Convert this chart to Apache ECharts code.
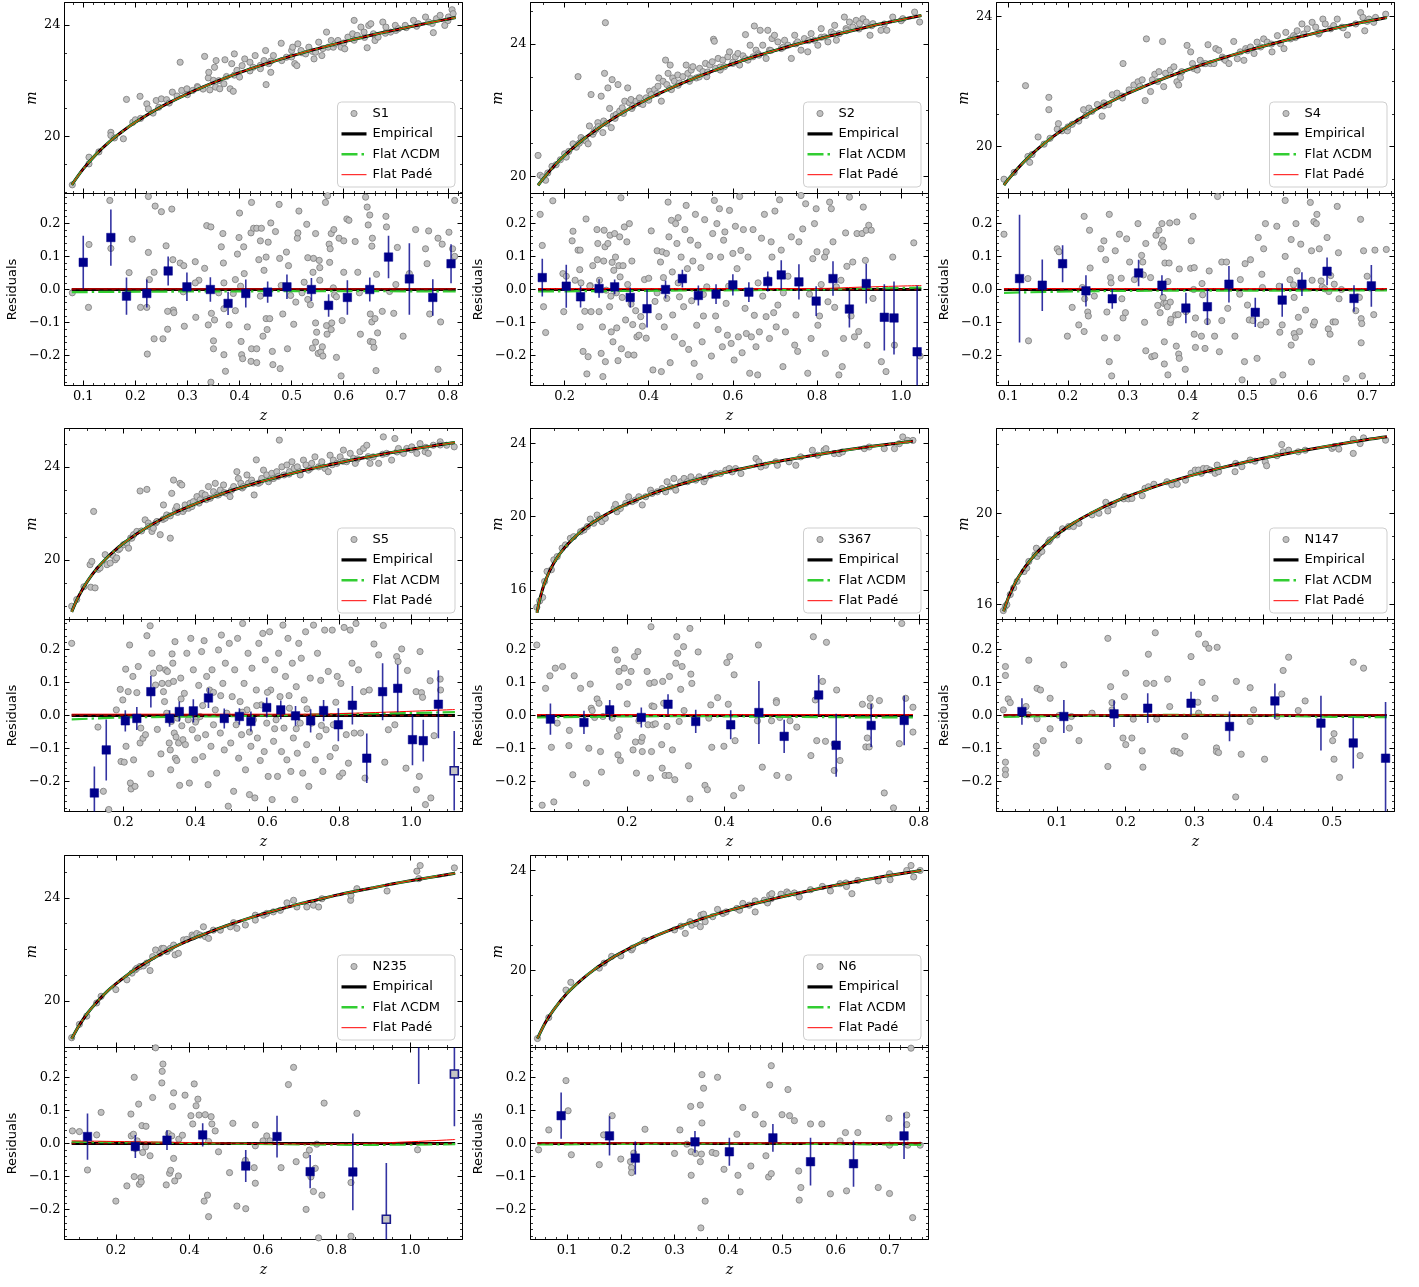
<!DOCTYPE html>
<html><head><meta charset="utf-8">
<script src="https://cdn.jsdelivr.net/npm/echarts@6/dist/echarts.min.js"></script>
<style>html,body{margin:0;padding:0;background:#fff}#c{width:1419px;height:1287px}</style>
</head><body><div id="c"></div>
<script>
// ---------------- DATA ----------------
const S1_curve=[[0.078,18.27],[0.1,18.84],[0.125,19.37],[0.15,19.81],[0.175,20.18],[0.2,20.51],[0.25,21.07],[0.3,21.53],[0.35,21.93],[0.4,22.29],[0.45,22.60],[0.5,22.89],[0.55,23.15],[0.6,23.39],[0.65,23.62],[0.7,23.82],[0.75,24.02],[0.815,24.26]];
const S1_top=[[0.079,18.27],[0.111,19.26],[0.111,19.02],[0.13,19.45],[0.153,20.15],[0.153,20.04],[0.16,19.95],[0.177,19.92],[0.183,21.33],[0.195,20.51],[0.2,20.6],[0.209,21.44],[0.21,20.65],[0.222,21.17],[0.225,20.99],[0.234,20.84],[0.24,21.29],[0.245,21.05],[0.25,21.35],[0.26,21.32],[0.265,21.2],[0.271,21.59],[0.28,21.45],[0.286,22.66],[0.289,21.65],[0.299,21.71],[0.3,21.5],[0.31,21.65],[0.319,21.79],[0.32,21.75],[0.33,21.7],[0.333,22.87],[0.34,22.1],[0.341,22.3],[0.343,21.67],[0.35,22.01],[0.352,22.48],[0.354,21.77],[0.355,22.72],[0.36,22.0],[0.362,21.71],[0.37,21.89],[0.372,22.75],[0.375,22.15],[0.382,21.71],[0.385,22.61],[0.388,21.62],[0.39,22.2],[0.39,22.96],[0.395,22.37],[0.4,22.13],[0.405,22.54],[0.41,22.78],[0.42,22.35],[0.42,22.66],[0.426,22.48],[0.43,22.9],[0.44,22.55],[0.44,22.43],[0.447,22.72],[0.45,23.08],[0.451,21.86],[0.46,22.7],[0.456,22.61],[0.46,22.3],[0.465,22.9],[0.48,23.34],[0.481,22.72],[0.49,22.84],[0.5,23.08],[0.5,22.85],[0.506,22.61],[0.51,22.54],[0.502,23.2],[0.512,23.32],[0.52,23.0],[0.518,23.08],[0.527,22.96],[0.533,23.2],[0.54,23.05],[0.543,22.78],[0.546,23.02],[0.552,23.38],[0.56,23.15],[0.558,22.9],[0.567,23.74],[0.57,23.2],[0.576,23.44],[0.58,23.2],[0.583,23.32],[0.589,23.44],[0.595,23.2],[0.6,23.35],[0.602,23.14],[0.608,23.56],[0.617,23.68],[0.62,23.45],[0.62,24.16],[0.626,23.62],[0.633,23.92],[0.64,23.55],[0.639,23.74],[0.645,23.18],[0.648,23.98],[0.652,24.04],[0.66,23.6],[0.657,23.68],[0.66,23.44],[0.666,23.56],[0.675,24.1],[0.68,23.7],[0.681,23.92],[0.69,23.74],[0.7,23.8],[0.699,23.98],[0.705,23.86],[0.72,23.9],[0.718,23.98],[0.734,24.16],[0.74,23.95],[0.743,24.04],[0.757,24.28],[0.77,24.05],[0.763,24.1],[0.772,23.72],[0.778,24.22],[0.785,24.34],[0.8,24.15],[0.794,23.98],[0.801,24.28],[0.808,24.54],[0.81,24.4]];
const S1_res=[[0.079,-0.010],[0.110,-0.054],[0.111,0.136],[0.151,0.269],[0.153,0.124],[0.188,0.051],[0.194,0.152],[0.210,-0.054],[0.222,-0.054],[0.223,-0.195],[0.225,0.112],[0.227,0.030],[0.225,0.281],[0.236,0.052],[0.236,-0.149],[0.238,0.252],[0.250,0.235],[0.253,-0.149],[0.259,0.132],[0.262,-0.066],[0.262,-0.120],[0.270,0.243],[0.272,0.090],[0.273,-0.062],[0.274,-0.070],[0.286,0.080],[0.293,0.072],[0.294,-0.111],[0.292,-0.007],[0.315,0.084],[0.316,-0.084],[0.322,0.028],[0.333,0.064],[0.337,0.193],[0.345,0.189],[0.340,-0.107],[0.346,-0.072],[0.350,-0.155],[0.350,-0.179],[0.345,-0.280],[0.352,-0.092],[0.365,0.129],[0.368,0.169],[0.369,0.080],[0.370,0.020],[0.370,-0.058],[0.370,-0.197],[0.373,-0.247],[0.380,-0.107],[0.388,-0.012],[0.392,0.030],[0.392,-0.064],[0.396,0.107],[0.399,0.157],[0.400,0.231],[0.403,-0.157],[0.404,-0.197],[0.406,-0.209],[0.408,0.129],[0.409,0.048],[0.415,-0.113],[0.422,0.171],[0.423,0.263],[0.423,-0.179],[0.422,-0.217],[0.427,0.185],[0.433,0.185],[0.433,-0.179],[0.433,-0.221],[0.437,0.090],[0.440,0.147],[0.442,0.185],[0.445,-0.141],[0.447,0.058],[0.451,0.098],[0.451,-0.088],[0.453,-0.121],[0.455,0.143],[0.458,-0.088],[0.460,0.201],[0.463,-0.187],[0.464,-0.227],[0.469,0.175],[0.476,0.257],[0.477,0.094],[0.478,-0.239],[0.483,-0.074],[0.490,0.113],[0.492,-0.179],[0.494,0.072],[0.498,-0.018],[0.504,-0.105],[0.508,-0.038],[0.511,0.155],[0.512,0.171],[0.514,0.237],[0.524,0.022],[0.529,0.197],[0.531,0.096],[0.531,-0.030],[0.536,-0.046],[0.540,-0.177],[0.541,0.052],[0.542,0.094],[0.546,0.169],[0.546,-0.159],[0.546,-0.101],[0.548,-0.129],[0.551,-0.193],[0.553,0.088],[0.554,0.066],[0.554,0.028],[0.556,-0.189],[0.559,-0.173],[0.560,-0.201],[0.565,0.263],[0.567,-0.109],[0.568,-0.135],[0.569,0.283],[0.572,0.137],[0.573,0.082],[0.574,0.123],[0.576,0.169],[0.576,-0.121],[0.577,-0.101],[0.581,0.181],[0.582,-0.016],[0.586,-0.022],[0.586,-0.205],[0.591,0.155],[0.595,-0.261],[0.597,-0.094],[0.600,0.147],[0.600,0.052],[0.606,0.213],[0.610,0.209],[0.622,0.145],[0.627,0.052],[0.632,-0.135],[0.642,0.279],[0.645,0.249],[0.647,0.195],[0.650,0.225],[0.651,-0.074],[0.651,-0.157],[0.654,0.131],[0.654,-0.098],[0.655,0.155],[0.656,-0.159],[0.658,-0.175],[0.660,-0.088],[0.662,-0.245],[0.663,0.046],[0.665,-0.131],[0.674,-0.066],[0.681,0.221],[0.682,0.189],[0.688,-0.006],[0.696,-0.072],[0.703,0.127],[0.714,-0.141],[0.726,0.048],[0.738,0.181],[0.757,0.123],[0.760,0.078],[0.763,0.177],[0.765,-0.074],[0.781,0.155],[0.789,0.137],[0.786,-0.098],[0.781,-0.241],[0.802,0.173],[0.809,0.123],[0.813,0.100],[0.813,0.269],[0.315,0.020],[0.360,-0.010],[0.402,0.010],[0.440,-0.020],[0.480,0.012],[0.520,-0.010],[0.580,0.005],[0.630,-0.010],[0.700,0.015]];
const S1_bins=[[0.100,0.082,0.080],[0.153,0.157,0.085],[0.183,-0.020,0.056],[0.222,-0.012,0.042],[0.263,0.056,0.044],[0.299,0.008,0.043],[0.344,0.000,0.037],[0.378,-0.042,0.035],[0.412,-0.012,0.042],[0.454,-0.008,0.032],[0.491,0.008,0.037],[0.538,0.000,0.035],[0.571,-0.048,0.034],[0.607,-0.024,0.052],[0.650,0.000,0.036],[0.686,0.098,0.064],[0.726,0.032,0.108],[0.771,-0.024,0.055],[0.806,0.078,0.059]];
const S1_few=[];
const S1_lcdm=[[0.078,-0.008],[0.3,-0.006],[0.6,-0.005],[0.815,-0.006]];
const S1_pade=[[0.078,0.002],[0.815,0.002]];

const S2_curve=[[0.137,19.73],[0.15,19.94],[0.175,20.31],[0.2,20.63],[0.25,21.17],[0.3,21.62],[0.35,22.01],[0.4,22.35],[0.45,22.65],[0.5,22.92],[0.55,23.17],[0.6,23.40],[0.65,23.61],[0.7,23.80],[0.75,23.98],[0.8,24.14],[0.85,24.30],[0.9,24.45],[0.95,24.60],[1.0,24.73],[1.048,24.86]];
const S2_top=[[0.137,20.63],[0.142,20.03],[0.148,19.98],[0.155,19.88],[0.16,20.1],[0.17,20.3],[0.18,20.35],[0.19,20.5],[0.2,20.68],[0.204,20.58],[0.21,20.75],[0.22,20.98],[0.228,20.88],[0.232,23.01],[0.235,21.0],[0.239,21.17],[0.245,21.1],[0.251,21.07],[0.256,20.98],[0.259,21.52],[0.263,22.47],[0.267,21.27],[0.27,21.35],[0.275,21.42],[0.279,21.62],[0.28,21.5],[0.287,22.42],[0.291,21.32],[0.293,21.67],[0.295,23.11],[0.297,24.64],[0.3,21.6],[0.303,22.67],[0.307,22.05],[0.311,21.47],[0.313,22.92],[0.316,21.82],[0.32,21.75],[0.323,21.87],[0.327,22.77],[0.331,21.97],[0.337,22.07],[0.34,21.9],[0.343,22.27],[0.35,22.67],[0.354,22.22],[0.358,22.32],[0.36,22.05],[0.362,22.12],[0.37,22.27],[0.378,22.37],[0.38,22.2],[0.386,22.17],[0.394,22.37],[0.4,22.3],[0.402,22.57],[0.406,22.47],[0.414,22.62],[0.42,22.5],[0.422,22.72],[0.424,22.97],[0.43,22.27],[0.434,22.87],[0.44,23.51],[0.443,22.77],[0.446,23.11],[0.45,22.65],[0.451,23.36],[0.454,22.62],[0.457,22.97],[0.461,22.87],[0.469,23.06],[0.47,22.75],[0.473,22.82],[0.481,23.01],[0.489,23.36],[0.493,23.11],[0.497,22.87],[0.5,22.95],[0.501,23.21],[0.505,23.31],[0.513,22.97],[0.52,23.0],[0.521,23.26],[0.529,23.16],[0.535,23.41],[0.538,23.01],[0.54,23.15],[0.545,23.36],[0.551,23.46],[0.554,24.14],[0.556,24.08],[0.559,23.26],[0.565,23.56],[0.57,23.21],[0.57,23.3],[0.576,23.51],[0.58,23.31],[0.588,23.61],[0.592,23.76],[0.6,23.41],[0.6,23.45],[0.606,23.61],[0.612,23.71],[0.616,23.36],[0.624,23.64],[0.63,24.28],[0.63,23.55],[0.636,23.51],[0.641,23.96],[0.648,23.61],[0.651,24.54],[0.655,23.81],[0.66,23.7],[0.662,23.66],[0.665,24.41],[0.671,23.96],[0.679,23.56],[0.683,24.41],[0.687,23.81],[0.69,23.8],[0.693,24.16],[0.699,24.26],[0.707,24.06],[0.715,23.86],[0.72,23.9],[0.723,24.11],[0.731,23.96],[0.739,23.56],[0.747,24.26],[0.75,24.0],[0.754,24.06],[0.762,23.81],[0.77,24.16],[0.778,23.76],[0.78,24.1],[0.786,24.31],[0.794,24.11],[0.802,23.96],[0.81,24.46],[0.81,24.2],[0.818,24.21],[0.826,24.06],[0.834,24.36],[0.84,24.3],[0.842,24.56],[0.846,24.11],[0.853,24.31],[0.865,24.81],[0.869,24.46],[0.87,24.4],[0.877,24.66],[0.885,24.51],[0.893,24.71],[0.9,24.45],[0.901,24.61],[0.909,24.76],[0.917,24.66],[0.926,24.26],[0.93,24.55],[0.933,24.61],[0.952,24.41],[0.96,24.6],[0.966,24.41],[0.98,24.81],[1.0,24.7],[1.004,24.76],[1.032,24.96],[1.044,24.66]];
const S2_res=[[0.142,0.227],[0.147,0.133],[0.150,-0.052],[0.155,-0.130],[0.172,0.268],[0.196,0.048],[0.198,-0.067],[0.204,0.040],[0.218,0.147],[0.220,0.176],[0.225,0.028],[0.232,0.119],[0.236,0.060],[0.237,0.119],[0.237,-0.113],[0.239,0.020],[0.244,-0.187],[0.248,-0.066],[0.251,0.213],[0.253,-0.255],[0.256,-0.203],[0.261,0.012],[0.263,-0.067],[0.267,0.072],[0.277,0.181],[0.278,0.090],[0.279,0.139],[0.282,-0.067],[0.283,0.028],[0.287,-0.193],[0.290,-0.113],[0.291,-0.263],[0.293,0.086],[0.294,0.179],[0.296,0.129],[0.297,-0.218],[0.299,-0.002],[0.303,0.139],[0.307,-0.052],[0.308,0.164],[0.311,-0.128],[0.313,0.082],[0.315,-0.158],[0.317,0.058],[0.319,0.169],[0.321,0.098],[0.323,-0.010],[0.324,-0.116],[0.327,-0.215],[0.329,0.072],[0.331,0.159],[0.332,0.038],[0.334,0.277],[0.335,-0.179],[0.337,-0.024],[0.339,0.072],[0.342,0.189],[0.345,-0.092],[0.348,0.144],[0.351,-0.197],[0.354,0.199],[0.358,-0.044],[0.360,0.086],[0.362,-0.106],[0.365,-0.198],[0.369,-0.064],[0.372,-0.143],[0.377,-0.138],[0.381,-0.082],[0.385,-0.111],[0.390,0.030],[0.394,-0.147],[0.400,0.034],[0.406,0.177],[0.410,-0.243],[0.415,-0.036],[0.420,0.117],[0.424,-0.082],[0.428,0.083],[0.430,-0.248],[0.432,0.114],[0.435,0.036],[0.437,-0.113],[0.442,0.109],[0.443,-0.027],[0.446,0.264],[0.448,0.159],[0.451,-0.221],[0.454,0.209],[0.456,0.053],[0.457,-0.077],[0.461,-0.143],[0.464,0.199],[0.467,0.139],[0.470,0.217],[0.473,-0.022],[0.477,0.098],[0.480,-0.163],[0.483,-0.052],[0.486,0.181],[0.489,0.254],[0.492,0.063],[0.495,-0.181],[0.499,0.149],[0.502,-0.034],[0.505,0.086],[0.508,-0.223],[0.511,0.227],[0.514,-0.108],[0.517,0.134],[0.521,-0.263],[0.524,0.066],[0.527,-0.158],[0.530,-0.080],[0.533,0.211],[0.538,0.008],[0.545,0.100],[0.549,-0.201],[0.552,0.169],[0.556,0.269],[0.559,-0.080],[0.562,0.199],[0.565,-0.121],[0.568,0.244],[0.571,0.098],[0.575,-0.173],[0.578,0.149],[0.581,0.174],[0.584,-0.042],[0.587,-0.138],[0.592,0.239],[0.596,-0.163],[0.600,0.109],[0.603,-0.213],[0.606,0.191],[0.610,0.063],[0.613,-0.143],[0.616,0.281],[0.619,0.118],[0.622,-0.191],[0.625,0.181],[0.629,-0.057],[0.632,-0.133],[0.636,0.098],[0.640,-0.253],[0.644,-0.143],[0.648,0.181],[0.651,-0.078],[0.655,-0.173],[0.659,-0.258],[0.663,-0.128],[0.668,0.155],[0.671,-0.020],[0.675,0.227],[0.679,-0.082],[0.683,0.030],[0.687,-0.148],[0.691,0.144],[0.693,0.098],[0.697,-0.070],[0.700,0.237],[0.703,-0.113],[0.707,-0.047],[0.711,0.271],[0.715,0.119],[0.719,-0.233],[0.725,-0.128],[0.731,0.040],[0.739,0.159],[0.747,-0.168],[0.750,-0.077],[0.754,-0.187],[0.757,0.144],[0.762,0.284],[0.766,0.183],[0.773,0.259],[0.778,-0.253],[0.782,-0.014],[0.786,-0.148],[0.790,0.093],[0.794,0.199],[0.798,0.244],[0.800,0.114],[0.802,-0.108],[0.806,-0.080],[0.818,0.098],[0.820,-0.193],[0.822,0.114],[0.826,-0.037],[0.830,0.264],[0.834,0.244],[0.838,0.144],[0.842,-0.054],[0.846,0.008],[0.852,-0.258],[0.857,0.028],[0.860,-0.233],[0.863,-0.148],[0.868,0.171],[0.871,0.070],[0.877,0.279],[0.881,-0.080],[0.885,0.083],[0.889,-0.143],[0.895,0.169],[0.899,-0.127],[0.907,0.169],[0.910,0.249],[0.915,0.088],[0.917,0.179],[0.919,-0.168],[0.923,0.194],[0.929,0.179],[0.933,-0.027],[0.953,-0.218],[0.964,-0.248],[0.980,0.098],[0.984,-0.168],[1.030,0.141],[1.045,-0.201],[0.26,0.01],[0.31,-0.02],[0.35,0.015],[0.42,-0.01],[0.47,0.02],[0.53,-0.015],[0.59,0.01],[0.66,0.02],[0.72,-0.01],[0.81,0.015]];
const S2_bins=[[0.147,0.036,0.057],[0.204,0.010,0.065],[0.238,-0.022,0.032],[0.282,0.003,0.028],[0.319,0.008,0.022],[0.356,-0.024,0.030],[0.396,-0.058,0.057],[0.440,0.000,0.027],[0.480,0.033,0.027],[0.518,-0.018,0.030],[0.560,-0.014,0.030],[0.600,0.014,0.032],[0.638,-0.008,0.030],[0.683,0.024,0.030],[0.715,0.044,0.044],[0.757,0.023,0.053],[0.798,-0.035,0.045],[0.838,0.033,0.052],[0.877,-0.059,0.056],[0.917,0.018,0.060],[0.960,-0.084,0.100],[0.983,-0.086,0.110],[1.038,-0.188,0.200]];
const S2_few=[];
const S2_lcdm=[[0.137,-0.006],[0.5,-0.003],[0.8,0.0],[1.048,0.006]];
const S2_pade=[[0.137,0.003],[0.8,0.003],[0.9,0.007],[1.048,0.012]];

const S4_curve=[[0.093,18.81],[0.1,18.98],[0.125,19.50],[0.15,19.93],[0.175,20.30],[0.2,20.62],[0.25,21.17],[0.3,21.63],[0.35,22.02],[0.4,22.36],[0.45,22.67],[0.5,22.95],[0.55,23.20],[0.6,23.43],[0.65,23.65],[0.7,23.85],[0.733,23.97]];
const S4_top=[[0.093,18.99],[0.11,19.2],[0.129,21.87],[0.133,19.69],[0.136,19.51],[0.14,19.75],[0.15,20.29],[0.16,20.07],[0.168,21.51],[0.168,21.13],[0.17,20.25],[0.182,20.53],[0.184,20.7],[0.19,20.48],[0.199,20.48],[0.2,20.6],[0.207,20.68],[0.218,20.78],[0.226,21.13],[0.23,20.95],[0.235,21.18],[0.24,21.08],[0.249,21.29],[0.257,20.93],[0.26,21.34],[0.26,21.25],[0.268,21.29],[0.274,21.59],[0.282,21.64],[0.29,21.55],[0.291,21.49],[0.292,22.55],[0.302,21.74],[0.31,21.89],[0.317,21.99],[0.32,21.85],[0.324,22.05],[0.329,21.41],[0.331,23.31],[0.338,21.69],[0.341,22.05],[0.345,22.22],[0.35,22.0],[0.352,22.3],[0.358,23.23],[0.36,21.84],[0.363,22.25],[0.371,22.35],[0.377,22.45],[0.382,21.99],[0.385,21.89],[0.388,22.12],[0.39,22.3],[0.399,23.11],[0.405,22.91],[0.408,22.55],[0.41,22.4],[0.416,22.35],[0.421,22.65],[0.427,22.55],[0.43,22.55],[0.434,23.13],[0.438,22.55],[0.444,22.55],[0.447,23.01],[0.452,22.96],[0.458,22.75],[0.46,22.7],[0.463,22.65],[0.469,22.55],[0.477,23.23],[0.483,22.7],[0.488,22.91],[0.494,22.65],[0.497,23.01],[0.5,22.95],[0.505,23.06],[0.511,22.86],[0.516,23.21],[0.522,23.06],[0.527,23.31],[0.533,23.21],[0.54,23.15],[0.541,22.91],[0.55,23.41],[0.555,23.16],[0.561,23.01],[0.564,23.51],[0.572,23.31],[0.577,23.41],[0.58,23.35],[0.583,23.56],[0.591,23.77],[0.594,23.46],[0.6,23.62],[0.608,23.82],[0.614,23.67],[0.619,23.46],[0.62,23.5],[0.626,23.92],[0.63,23.77],[0.639,23.62],[0.644,23.72],[0.65,23.92],[0.658,23.67],[0.66,23.65],[0.667,23.43],[0.681,23.77],[0.689,24.12],[0.693,23.97],[0.696,23.56],[0.7,23.85],[0.703,23.92],[0.711,23.82],[0.714,23.97],[0.731,24.07]];
const S4_res=[[0.093,0.167],[0.133,0.033],[0.134,-0.155],[0.182,0.123],[0.185,0.114],[0.199,-0.141],[0.207,-0.054],[0.218,-0.107],[0.224,0.006],[0.227,-0.127],[0.227,0.221],[0.228,-0.028],[0.233,-0.068],[0.234,-0.080],[0.236,0.179],[0.237,0.065],[0.244,-0.020],[0.255,0.123],[0.260,0.147],[0.261,-0.146],[0.263,0.090],[0.265,-0.068],[0.269,0.227],[0.269,-0.218],[0.271,0.036],[0.272,0.020],[0.273,-0.261],[0.279,0.117],[0.282,-0.146],[0.286,0.167],[0.289,0.034],[0.290,-0.028],[0.292,-0.086],[0.296,-0.070],[0.298,0.153],[0.303,0.083],[0.311,0.030],[0.317,0.199],[0.323,0.103],[0.325,0.083],[0.326,0.044],[0.328,-0.099],[0.330,0.139],[0.330,-0.185],[0.338,0.036],[0.340,-0.203],[0.345,-0.200],[0.347,0.164],[0.350,-0.048],[0.352,0.179],[0.354,-0.070],[0.356,0.139],[0.357,0.199],[0.358,0.149],[0.359,-0.024],[0.360,-0.042],[0.360,0.129],[0.361,-0.158],[0.361,-0.225],[0.362,0.080],[0.364,-0.042],[0.366,-0.052],[0.367,0.024],[0.367,-0.258],[0.369,0.080],[0.370,0.201],[0.371,-0.038],[0.371,-0.100],[0.372,-0.090],[0.380,-0.077],[0.381,-0.171],[0.382,0.204],[0.384,-0.076],[0.385,-0.195],[0.386,-0.208],[0.386,0.062],[0.396,-0.241],[0.397,-0.067],[0.405,0.064],[0.406,0.147],[0.409,0.221],[0.410,0.000],[0.411,-0.135],[0.411,0.066],[0.413,-0.175],[0.413,-0.086],[0.423,-0.141],[0.424,0.018],[0.425,-0.016],[0.429,-0.178],[0.433,-0.097],[0.436,0.056],[0.445,-0.141],[0.453,-0.188],[0.450,0.281],[0.457,0.083],[0.457,-0.094],[0.465,0.083],[0.467,-0.057],[0.479,-0.141],[0.487,-0.014],[0.488,0.030],[0.491,-0.273],[0.495,-0.218],[0.496,0.078],[0.500,-0.047],[0.503,-0.092],[0.505,0.090],[0.509,-0.094],[0.516,-0.208],[0.518,0.157],[0.522,-0.107],[0.524,0.046],[0.525,0.006],[0.527,0.123],[0.530,0.199],[0.531,-0.098],[0.543,-0.278],[0.549,0.191],[0.553,0.010],[0.554,-0.129],[0.558,-0.107],[0.559,-0.258],[0.563,0.100],[0.563,0.269],[0.571,0.030],[0.573,-0.168],[0.573,0.151],[0.577,0.014],[0.578,-0.024],[0.578,-0.133],[0.580,-0.145],[0.581,0.199],[0.583,0.056],[0.585,-0.084],[0.587,-0.127],[0.589,0.137],[0.597,-0.062],[0.605,0.263],[0.607,0.117],[0.607,-0.219],[0.608,0.028],[0.610,-0.107],[0.611,0.205],[0.612,-0.098],[0.615,0.199],[0.616,0.227],[0.620,0.123],[0.623,0.026],[0.625,0.008],[0.629,0.002],[0.633,0.157],[0.635,-0.119],[0.636,-0.006],[0.638,-0.135],[0.639,0.042],[0.643,-0.098],[0.645,0.016],[0.647,-0.098],[0.650,0.251],[0.652,0.111],[0.653,-0.028],[0.657,0.000],[0.665,-0.269],[0.681,-0.064],[0.684,-0.022],[0.687,-0.024],[0.689,0.212],[0.690,-0.161],[0.690,-0.088],[0.691,-0.103],[0.692,-0.261],[0.694,0.117],[0.700,0.040],[0.713,0.119],[0.711,-0.076],[0.732,0.121]];
const S4_bins=[[0.119,0.033,0.193],[0.157,0.013,0.078],[0.191,0.078,0.056],[0.230,-0.004,0.047],[0.274,-0.028,0.030],[0.318,0.050,0.040],[0.357,0.013,0.030],[0.397,-0.056,0.046],[0.433,-0.052,0.055],[0.469,0.016,0.055],[0.513,-0.069,0.044],[0.558,-0.032,0.050],[0.591,0.016,0.036],[0.633,0.055,0.042],[0.678,-0.027,0.040],[0.707,0.011,0.063]];
const S4_few=[];
const S4_lcdm=[[0.093,-0.010],[0.3,-0.004],[0.733,-0.003]];
const S4_pade=[[0.093,0.003],[0.733,0.003]];

const S5_curve=[[0.056,17.77],[0.075,18.43],[0.1,19.09],[0.125,19.61],[0.15,20.03],[0.175,20.40],[0.2,20.72],[0.25,21.26],[0.3,21.71],[0.35,22.09],[0.4,22.42],[0.45,22.72],[0.5,22.99],[0.55,23.23],[0.6,23.45],[0.65,23.66],[0.7,23.85],[0.75,24.03],[0.8,24.19],[0.85,24.35],[0.9,24.50],[0.95,24.64],[1.0,24.77],[1.05,24.89],[1.121,25.06]];
const S5_top=[[0.056,18.01],[0.07,18.3],[0.09,18.85],[0.107,19.8],[0.109,18.83],[0.112,19.94],[0.117,22.09],[0.121,18.8],[0.13,19.6],[0.135,19.66],[0.149,20.23],[0.154,19.8],[0.163,19.87],[0.17,20.2],[0.177,20.01],[0.181,20.09],[0.186,20.44],[0.19,20.5],[0.2,20.66],[0.209,20.73],[0.214,20.51],[0.22,20.95],[0.223,20.94],[0.228,21.09],[0.237,21.23],[0.246,22.97],[0.25,21.25],[0.26,21.73],[0.265,23.04],[0.269,21.59],[0.27,21.45],[0.279,21.23],[0.283,21.37],[0.29,21.6],[0.293,21.66],[0.302,21.09],[0.31,21.75],[0.311,22.37],[0.316,21.8],[0.32,21.94],[0.33,20.94],[0.33,21.9],[0.334,22.87],[0.339,23.44],[0.344,22.16],[0.348,22.3],[0.35,22.05],[0.357,23.3],[0.362,23.23],[0.365,22.09],[0.37,22.2],[0.371,22.37],[0.381,22.23],[0.385,22.44],[0.39,22.3],[0.394,22.51],[0.404,22.73],[0.41,22.45],[0.413,22.59],[0.418,22.87],[0.427,22.8],[0.43,22.6],[0.436,23.16],[0.441,22.66],[0.45,22.94],[0.455,23.3],[0.46,22.8],[0.464,22.8],[0.469,23.01],[0.478,23.23],[0.48,22.9],[0.487,22.87],[0.496,22.73],[0.5,23.0],[0.506,23.16],[0.515,23.8],[0.519,23.51],[0.526,23.3],[0.53,23.1],[0.533,23.16],[0.543,23.66],[0.547,23.3],[0.556,23.44],[0.56,23.3],[0.563,22.8],[0.569,24.31],[0.575,23.3],[0.58,23.35],[0.584,23.51],[0.589,23.87],[0.598,23.66],[0.603,23.37],[0.61,23.5],[0.612,23.73],[0.617,23.51],[0.626,23.8],[0.63,23.6],[0.633,25.16],[0.64,24.01],[0.646,23.66],[0.654,24.09],[0.66,23.7],[0.661,23.8],[0.668,24.23],[0.674,23.94],[0.683,24.01],[0.69,23.8],[0.691,23.66],[0.7,24.3],[0.707,24.09],[0.714,23.87],[0.72,23.95],[0.723,24.16],[0.732,24.44],[0.742,24.01],[0.75,24.05],[0.751,24.23],[0.76,23.94],[0.769,23.8],[0.774,24.51],[0.78,24.1],[0.783,24.3],[0.793,24.16],[0.802,24.44],[0.81,24.25],[0.811,24.73],[0.82,24.23],[0.83,24.59],[0.839,24.37],[0.844,24.16],[0.85,24.35],[0.857,24.66],[0.867,24.8],[0.876,24.94],[0.88,24.45],[0.885,24.16],[0.894,24.44],[0.909,24.16],[0.92,24.55],[0.922,25.3],[0.931,24.59],[0.945,24.3],[0.954,25.23],[0.96,24.65],[0.964,24.8],[0.978,24.59],[0.987,24.8],[1.0,24.75],[1.001,24.87],[1.015,24.59],[1.024,25.01],[1.038,24.66],[1.04,24.85],[1.047,24.59],[1.061,24.94],[1.08,25.09],[1.08,24.95],[1.098,24.94],[1.119,24.87]];
const S5_res=[[0.056,0.218],[0.129,-0.035],[0.144,-0.229],[0.159,-0.284],[0.180,0.017],[0.191,0.079],[0.193,-0.139],[0.198,0.047],[0.202,-0.141],[0.206,0.140],[0.207,-0.093],[0.213,0.072],[0.217,0.213],[0.219,-0.204],[0.221,-0.222],[0.226,0.118],[0.228,-0.134],[0.232,-0.214],[0.237,0.069],[0.241,0.148],[0.246,-0.083],[0.248,-0.038],[0.254,-0.069],[0.261,-0.058],[0.265,0.241],[0.274,0.271],[0.276,-0.176],[0.279,0.188],[0.283,0.128],[0.289,0.092],[0.294,-0.042],[0.300,0.143],[0.304,-0.116],[0.307,0.097],[0.311,0.072],[0.314,0.042],[0.317,0.138],[0.320,0.007],[0.322,0.133],[0.325,0.097],[0.327,-0.083],[0.330,-0.104],[0.331,-0.164],[0.333,-0.018],[0.335,0.186],[0.337,0.158],[0.339,0.103],[0.341,-0.053],[0.343,0.223],[0.344,-0.129],[0.346,-0.065],[0.348,-0.136],[0.350,-0.008],[0.353,-0.083],[0.356,-0.211],[0.359,0.113],[0.362,-0.031],[0.365,-0.073],[0.369,0.067],[0.372,-0.088],[0.376,0.188],[0.380,-0.013],[0.383,-0.204],[0.387,0.233],[0.391,-0.043],[0.394,0.138],[0.398,-0.134],[0.402,-0.013],[0.406,-0.068],[0.409,0.091],[0.413,-0.003],[0.417,0.193],[0.420,-0.124],[0.424,0.226],[0.428,-0.058],[0.431,0.118],[0.435,-0.209],[0.439,0.077],[0.443,-0.093],[0.446,0.138],[0.450,-0.028],[0.455,0.017],[0.459,-0.174],[0.464,0.198],[0.469,-0.053],[0.472,0.243],[0.476,0.097],[0.480,-0.104],[0.483,0.158],[0.487,0.007],[0.491,-0.274],[0.494,0.218],[0.498,-0.083],[0.502,0.057],[0.506,-0.229],[0.509,0.138],[0.513,-0.028],[0.517,0.233],[0.520,-0.129],[0.524,0.042],[0.528,-0.058],[0.531,0.278],[0.535,0.097],[0.539,-0.164],[0.543,0.017],[0.546,0.188],[0.550,-0.239],[0.554,-0.093],[0.557,0.143],[0.561,-0.013],[0.565,-0.249],[0.569,0.077],[0.572,-0.068],[0.576,0.218],[0.580,-0.136],[0.583,0.032],[0.587,0.248],[0.591,-0.109],[0.594,0.168],[0.598,-0.023],[0.602,-0.184],[0.606,0.253],[0.609,0.077],[0.613,-0.254],[0.617,-0.078],[0.620,0.138],[0.624,-0.013],[0.628,-0.184],[0.631,0.188],[0.635,0.057],[0.639,-0.109],[0.643,0.273],[0.646,-0.038],[0.650,0.118],[0.654,-0.134],[0.657,0.233],[0.661,0.022],[0.665,-0.169],[0.669,0.158],[0.672,-0.068],[0.676,-0.254],[0.680,0.087],[0.683,-0.114],[0.687,0.218],[0.691,-0.023],[0.694,0.173],[0.698,-0.174],[0.702,0.047],[0.706,0.253],[0.709,-0.088],[0.715,-0.214],[0.719,0.113],[0.723,-0.023],[0.728,0.273],[0.733,-0.134],[0.739,0.188],[0.744,-0.063],[0.748,0.106],[0.754,-0.169],[0.759,0.258],[0.763,-0.043],[0.769,0.133],[0.774,-0.124],[0.780,0.258],[0.783,-0.028],[0.789,-0.098],[0.794,0.118],[0.800,-0.184],[0.804,0.097],[0.809,-0.174],[0.813,0.266],[0.819,-0.058],[0.825,-0.144],[0.830,0.258],[0.835,0.158],[0.841,-0.053],[0.846,0.278],[0.853,0.138],[0.859,-0.053],[0.867,0.072],[0.871,-0.189],[0.883,0.077],[0.896,0.216],[0.909,0.183],[0.922,0.272],[0.926,-0.141],[0.936,-0.043],[0.954,-0.028],[0.959,0.178],[0.963,0.163],[0.973,0.201],[0.985,-0.159],[0.989,0.136],[1.013,0.072],[1.014,-0.224],[1.022,-0.184],[1.024,0.193],[1.028,0.069],[1.031,0.055],[1.039,-0.269],[1.052,0.105],[1.054,-0.249],[1.063,-0.061],[1.080,0.110],[1.081,0.077],[0.36,0.05],[0.42,0.03],[0.47,0.06],[0.53,0.01],[0.57,0.03],[0.62,-0.04],[0.66,0.06],[0.71,0.02],[0.75,-0.03],[0.79,0.04],[0.40,-0.02],[0.45,0.07],[0.55,-0.05],[0.60,0.07],[0.68,-0.04]];
const S5_bins=[[0.119,-0.234,0.080],[0.152,-0.104,0.092],[0.205,-0.016,0.032],[0.237,-0.009,0.035],[0.276,0.072,0.048],[0.328,-0.009,0.025],[0.355,0.012,0.030],[0.394,0.014,0.035],[0.436,0.053,0.030],[0.480,-0.009,0.030],[0.522,-0.003,0.025],[0.554,-0.018,0.030],[0.598,0.024,0.030],[0.637,0.017,0.028],[0.678,-0.001,0.030],[0.720,-0.016,0.035],[0.756,0.015,0.032],[0.797,-0.028,0.050],[0.836,0.031,0.058],[0.876,-0.129,0.075],[0.920,0.072,0.086],[0.962,0.082,0.072],[1.003,-0.073,0.077],[1.033,-0.076,0.063],[1.075,0.034,0.103]];
const S5_few=[[1.119,-0.167,0.120]];
const S5_lcdm=[[0.056,-0.012],[0.2,-0.006],[0.5,-0.002],[0.8,0.004],[1.121,0.010]];
const S5_pade=[[0.056,0.004],[0.7,0.004],[0.9,0.009],[1.121,0.018]];

const S367_curve=[[0.0144,14.75],[0.02,15.47],[0.025,15.96],[0.03,16.37],[0.04,17.01],[0.05,17.51],[0.06,17.92],[0.075,18.42],[0.1,19.08],[0.125,19.60],[0.15,20.02],[0.175,20.39],[0.2,20.71],[0.25,21.25],[0.3,21.69],[0.35,22.07],[0.4,22.41],[0.45,22.70],[0.5,22.97],[0.55,23.21],[0.6,23.43],[0.65,23.64],[0.7,23.83],[0.75,24.00],[0.788,24.13]];
const S367_top=[[0.014,15.05],[0.02,15.4],[0.026,15.59],[0.03,16.46],[0.035,17.01],[0.044,17.1],[0.049,17.64],[0.056,17.82],[0.066,18.28],[0.073,18.46],[0.083,18.82],[0.09,18.91],[0.104,19.18],[0.111,19.27],[0.118,19.46],[0.124,19.87],[0.131,19.64],[0.138,20.09],[0.142,19.87],[0.148,19.73],[0.155,19.91],[0.173,20.45],[0.176,20.67],[0.179,20.27],[0.186,20.45],[0.197,20.73],[0.203,21.09],[0.21,20.82],[0.217,20.91],[0.224,21.09],[0.231,20.64],[0.238,21.09],[0.248,21.45],[0.251,21.27],[0.262,21.36],[0.272,21.54],[0.279,21.36],[0.282,21.91],[0.289,21.63],[0.296,22.09],[0.3,21.45],[0.31,21.91],[0.317,22.09],[0.324,21.91],[0.331,22.18],[0.341,22.0],[0.348,22.18],[0.358,21.91],[0.361,22.09],[0.372,22.27],[0.382,22.36],[0.392,22.36],[0.403,22.54],[0.41,22.63],[0.416,22.45],[0.423,22.63],[0.434,22.36],[0.465,23.18],[0.471,23.0],[0.475,22.72],[0.485,22.81],[0.506,23.0],[0.509,22.81],[0.533,23.0],[0.547,22.81],[0.557,23.27],[0.581,23.63],[0.592,23.36],[0.605,23.63],[0.609,23.72],[0.626,23.45],[0.636,23.45],[0.643,23.54],[0.688,23.72],[0.698,23.81],[0.729,23.72],[0.75,23.72],[0.76,23.99],[0.767,24.36],[0.777,24.17],[0.788,24.17]];
const S367_res=[[0.014,0.213],[0.025,-0.271],[0.032,0.082],[0.041,0.120],[0.044,-0.096],[0.049,-0.261],[0.052,0.143],[0.056,-0.023],[0.067,0.148],[0.080,-0.091],[0.081,-0.045],[0.088,-0.179],[0.091,0.120],[0.104,0.082],[0.116,-0.204],[0.121,-0.099],[0.124,0.095],[0.126,0.022],[0.128,0.015],[0.133,-0.006],[0.138,0.050],[0.142,0.037],[0.145,-0.109],[0.147,-0.171],[0.150,-0.003],[0.169,-0.008],[0.175,0.198],[0.180,0.168],[0.180,-0.063],[0.181,-0.119],[0.183,0.133],[0.184,-0.043],[0.184,0.087],[0.186,-0.136],[0.194,0.143],[0.200,0.035],[0.202,0.100],[0.208,0.133],[0.212,-0.104],[0.215,0.178],[0.217,-0.080],[0.219,-0.174],[0.222,0.193],[0.224,-0.016],[0.229,-0.078],[0.231,-0.066],[0.231,-0.109],[0.241,0.133],[0.243,-0.028],[0.246,0.097],[0.248,-0.189],[0.249,0.268],[0.250,-0.109],[0.251,0.029],[0.253,-0.028],[0.255,0.027],[0.256,0.100],[0.258,-0.025],[0.271,-0.088],[0.272,-0.159],[0.273,0.103],[0.275,0.037],[0.278,-0.181],[0.282,-0.033],[0.286,-0.181],[0.287,0.118],[0.293,-0.104],[0.298,-0.194],[0.300,0.158],[0.302,0.238],[0.304,0.188],[0.307,-0.018],[0.310,0.079],[0.313,0.148],[0.316,0.208],[0.317,0.015],[0.326,-0.152],[0.329,0.263],[0.329,-0.252],[0.331,0.125],[0.333,0.097],[0.346,0.192],[0.360,-0.211],[0.365,-0.224],[0.368,-0.008],[0.372,0.032],[0.374,-0.096],[0.386,0.054],[0.399,-0.093],[0.405,0.160],[0.408,0.034],[0.411,0.178],[0.419,-0.242],[0.420,0.123],[0.422,-0.076],[0.435,-0.219],[0.468,-0.016],[0.470,0.213],[0.478,-0.156],[0.497,-0.016],[0.507,0.045],[0.507,0.039],[0.508,-0.181],[0.514,-0.006],[0.532,-0.187],[0.535,-0.016],[0.549,-0.035],[0.578,-0.121],[0.583,0.238],[0.587,0.047],[0.590,-0.076],[0.602,0.103],[0.608,-0.078],[0.610,0.221],[0.626,-0.086],[0.631,0.077],[0.626,-0.166],[0.638,-0.136],[0.684,0.034],[0.691,-0.095],[0.694,-0.068],[0.698,-0.095],[0.700,0.052],[0.700,0.029],[0.719,0.045],[0.729,-0.234],[0.748,-0.279],[0.760,-0.085],[0.765,0.278],[0.773,0.052],[0.788,-0.050],[0.788,0.025]];
const S367_bins=[[0.042,-0.011,0.047],[0.111,-0.021,0.035],[0.164,0.017,0.030],[0.229,-0.006,0.030],[0.284,0.034,0.030],[0.341,-0.018,0.035],[0.413,-0.028,0.044],[0.471,0.009,0.095],[0.523,-0.063,0.050],[0.594,0.062,0.060],[0.630,-0.090,0.095],[0.702,-0.030,0.065],[0.770,-0.015,0.075]];
const S367_few=[];
const S367_lcdm=[[0.0144,-0.006],[0.3,-0.002],[0.6,-0.005],[0.788,-0.006]];
const S367_pade=[[0.0144,0.003],[0.788,0.003]];

const N147_curve=[[0.0224,15.71],[0.025,15.95],[0.03,16.36],[0.04,17.00],[0.05,17.49],[0.06,17.90],[0.075,18.41],[0.1,19.07],[0.125,19.59],[0.15,20.01],[0.175,20.38],[0.2,20.70],[0.25,21.24],[0.3,21.69],[0.35,22.07],[0.4,22.41],[0.45,22.70],[0.5,22.97],[0.55,23.22],[0.58,23.35]];
const N147_top=[[0.022,15.74],[0.025,15.93],[0.027,16.0],[0.032,16.44],[0.037,16.73],[0.042,17.02],[0.052,17.45],[0.056,17.6],[0.059,17.89],[0.068,18.18],[0.07,18.47],[0.071,18.11],[0.074,18.25],[0.078,18.33],[0.088,18.76],[0.09,18.84],[0.1,19.05],[0.108,19.32],[0.117,19.42],[0.124,19.42],[0.132,19.56],[0.151,19.93],[0.161,20.0],[0.171,20.48],[0.174,20.1],[0.178,20.36],[0.182,20.39],[0.197,20.63],[0.199,20.73],[0.204,20.63],[0.209,20.65],[0.224,20.77],[0.228,21.09],[0.233,21.16],[0.241,21.27],[0.26,21.38],[0.267,21.24],[0.275,21.27],[0.287,21.45],[0.295,21.75],[0.301,21.89],[0.306,21.89],[0.31,21.75],[0.313,21.96],[0.318,21.96],[0.323,21.89],[0.33,21.75],[0.333,22.11],[0.335,21.82],[0.359,21.82],[0.36,22.18],[0.369,22.04],[0.381,22.33],[0.388,22.28],[0.403,22.25],[0.405,22.08],[0.42,22.52],[0.427,23.01],[0.429,22.69],[0.437,22.76],[0.451,22.69],[0.461,22.76],[0.5,22.84],[0.503,22.91],[0.51,22.81],[0.531,23.24],[0.531,22.62],[0.541,23.05],[0.546,23.3],[0.578,23.2]];
const N147_res=[[0.022,0.017],[0.025,0.148],[0.025,0.121],[0.025,-0.141],[0.025,-0.164],[0.025,-0.179],[0.029,0.050],[0.032,0.039],[0.055,0.027],[0.058,0.002],[0.059,0.167],[0.071,0.082],[0.071,-0.010],[0.070,-0.093],[0.070,-0.114],[0.076,0.077],[0.080,-0.076],[0.090,0.052],[0.090,-0.040],[0.103,0.000],[0.110,0.153],[0.118,-0.038],[0.121,-0.003],[0.132,-0.076],[0.151,0.007],[0.174,0.233],[0.174,-0.154],[0.178,0.087],[0.180,0.039],[0.180,0.017],[0.196,-0.068],[0.198,0.057],[0.200,0.128],[0.200,-0.088],[0.209,-0.068],[0.211,-0.011],[0.224,-0.107],[0.225,-0.156],[0.230,0.097],[0.233,0.185],[0.241,0.097],[0.243,0.250],[0.245,-0.011],[0.261,0.110],[0.264,0.027],[0.270,-0.107],[0.275,-0.109],[0.279,-0.114],[0.286,-0.063],[0.295,0.178],[0.305,0.040],[0.306,0.246],[0.306,0.007],[0.311,0.100],[0.316,0.216],[0.321,0.203],[0.330,0.052],[0.332,-0.098],[0.333,0.206],[0.332,-0.109],[0.335,-0.112],[0.361,0.103],[0.360,-0.246],[0.368,-0.117],[0.381,0.084],[0.381,-0.018],[0.386,0.017],[0.402,-0.132],[0.420,-0.003],[0.427,0.065],[0.429,0.136],[0.437,0.176],[0.451,0.015],[0.461,0.044],[0.501,-0.076],[0.503,-0.055],[0.503,-0.132],[0.511,-0.187],[0.531,0.161],[0.541,-0.121],[0.546,0.143]];
const N147_bins=[[0.049,0.012,0.040],[0.110,-0.003,0.050],[0.183,0.005,0.040],[0.232,0.022,0.045],[0.295,0.037,0.035],[0.351,-0.033,0.045],[0.417,0.044,0.053],[0.484,-0.023,0.083],[0.531,-0.083,0.077],[0.578,-0.129,0.170]];
const N147_few=[];
const N147_lcdm=[[0.0224,-0.004],[0.3,0.002],[0.5,-0.004],[0.58,-0.005]];
const N147_pade=[[0.0224,0.002],[0.58,0.002]];

const N235_curve=[[0.08,18.53],[0.1,19.04],[0.125,19.56],[0.15,19.98],[0.175,20.35],[0.2,20.66],[0.25,21.20],[0.3,21.64],[0.35,22.03],[0.4,22.36],[0.45,22.65],[0.5,22.92],[0.55,23.16],[0.6,23.38],[0.65,23.58],[0.7,23.77],[0.75,23.94],[0.8,24.11],[0.85,24.26],[0.9,24.40],[0.95,24.54],[1.0,24.67],[1.05,24.79],[1.122,24.96]];
const N235_top=[[0.08,18.57],[0.101,19.09],[0.121,19.41],[0.148,19.92],[0.16,20.18],[0.2,20.44],[0.23,20.82],[0.244,21.08],[0.253,21.21],[0.257,21.27],[0.266,21.34],[0.275,21.36],[0.284,21.47],[0.293,21.18],[0.3,21.72],[0.308,21.98],[0.32,21.85],[0.325,22.04],[0.33,22.04],[0.339,21.92],[0.348,22.04],[0.357,22.17],[0.361,21.79],[0.37,21.85],[0.384,22.37],[0.393,22.39],[0.407,22.56],[0.411,22.5],[0.42,22.62],[0.429,22.56],[0.438,22.88],[0.443,22.5],[0.452,22.43],[0.465,22.75],[0.484,22.75],[0.511,22.88],[0.52,23.04],[0.529,22.82],[0.552,22.95],[0.579,23.33],[0.579,23.14],[0.601,23.33],[0.61,23.4],[0.628,23.46],[0.647,23.52],[0.665,23.81],[0.683,23.91],[0.692,23.65],[0.719,23.65],[0.737,23.72],[0.751,23.65],[0.76,23.97],[0.838,23.91],[0.839,24.1],[0.855,24.36],[0.937,24.27],[1.018,25.04],[1.023,24.75],[1.027,25.26],[1.12,25.17]];
const N235_res=[[0.082,0.038],[0.101,0.036],[0.123,-0.080],[0.148,0.026],[0.160,0.094],[0.200,-0.174],[0.230,-0.128],[0.241,0.089],[0.242,0.023],[0.248,0.028],[0.250,0.200],[0.250,-0.100],[0.253,-0.015],[0.258,0.008],[0.262,0.119],[0.264,-0.123],[0.268,-0.103],[0.269,-0.116],[0.271,0.054],[0.273,-0.027],[0.281,-0.010],[0.282,0.052],[0.293,-0.037],[0.300,0.139],[0.308,0.289],[0.325,0.183],[0.326,0.218],[0.328,0.240],[0.337,-0.125],[0.343,0.030],[0.346,-0.090],[0.349,-0.081],[0.352,0.023],[0.354,0.112],[0.357,0.153],[0.357,-0.045],[0.360,-0.113],[0.370,-0.098],[0.371,0.013],[0.381,0.025],[0.388,0.146],[0.404,0.084],[0.409,0.059],[0.413,0.180],[0.418,0.114],[0.423,0.134],[0.426,0.086],[0.440,-0.174],[0.443,0.087],[0.449,-0.156],[0.452,-0.221],[0.452,0.006],[0.459,0.081],[0.461,0.059],[0.470,0.038],[0.479,-0.025],[0.509,-0.088],[0.518,0.061],[0.529,-0.189],[0.552,-0.051],[0.553,-0.197],[0.576,-0.073],[0.579,0.056],[0.579,-0.120],[0.579,-0.007],[0.600,0.008],[0.610,0.023],[0.619,0.008],[0.649,-0.073],[0.669,0.178],[0.683,0.230],[0.690,-0.055],[0.717,-0.035],[0.717,-0.199],[0.726,-0.020],[0.730,-0.101],[0.737,-0.145],[0.742,-0.075],[0.746,-0.002],[0.751,-0.285],[0.760,-0.156],[0.766,0.122],[0.839,-0.280],[0.839,-0.118],[0.855,0.091],[1.020,-0.019]];
const N235_bins=[[0.123,0.021,0.070],[0.253,-0.009,0.035],[0.339,0.010,0.030],[0.436,0.026,0.035],[0.553,-0.068,0.048],[0.638,0.021,0.063],[0.728,-0.085,0.050],[0.844,-0.086,0.116],[1.023,0.350,0.170]];
const N235_few=[[0.935,-0.229,0.170],[1.120,0.210,0.158]];
const N235_lcdm=[[0.08,0.005],[0.5,0.0],[0.9,-0.004],[1.122,-0.002]];
const N235_pade=[[0.08,0.008],[0.4,0.003],[0.7,-0.001],[0.9,0.001],[1.122,0.012]];

const N6_curve=[[0.045,17.27],[0.06,17.92],[0.075,18.42],[0.1,19.08],[0.125,19.59],[0.15,20.02],[0.175,20.38],[0.2,20.70],[0.25,21.24],[0.3,21.68],[0.35,22.06],[0.4,22.39],[0.45,22.68],[0.5,22.95],[0.55,23.19],[0.6,23.41],[0.65,23.61],[0.7,23.80],[0.759,24.0]];
const N6_top=[[0.045,17.27],[0.066,18.11],[0.098,19.21],[0.107,19.52],[0.16,20.09],[0.169,20.29],[0.183,20.56],[0.2,20.58],[0.22,20.82],[0.222,20.89],[0.244,21.19],[0.3,21.62],[0.312,21.77],[0.32,21.48],[0.329,21.95],[0.332,21.81],[0.34,21.88],[0.348,21.75],[0.349,22.21],[0.354,22.25],[0.357,21.95],[0.371,22.15],[0.38,22.44],[0.39,22.28],[0.396,22.34],[0.416,22.48],[0.421,22.41],[0.427,22.68],[0.439,22.61],[0.45,22.34],[0.45,22.78],[0.467,22.81],[0.473,22.7],[0.477,23.01],[0.48,22.87],[0.481,23.07],[0.498,23.05],[0.509,23.14],[0.512,23.07],[0.523,23.1],[0.532,22.94],[0.553,23.23],[0.575,23.36],[0.59,23.18],[0.608,23.47],[0.619,23.5],[0.62,23.36],[0.63,23.07],[0.641,23.6],[0.679,23.58],[0.7,23.87],[0.701,23.63],[0.732,24.0],[0.74,24.2],[0.745,23.74],[0.757,24.0]];
const N6_res=[[0.047,-0.019],[0.066,0.041],[0.098,0.190],[0.102,0.099],[0.108,-0.034],[0.160,-0.064],[0.168,0.026],[0.184,0.084],[0.200,-0.047],[0.218,-0.055],[0.220,-0.073],[0.220,-0.088],[0.224,-0.029],[0.245,0.043],[0.300,-0.030],[0.310,0.041],[0.323,-0.002],[0.330,0.112],[0.331,-0.025],[0.331,-0.096],[0.339,-0.030],[0.348,0.116],[0.348,-0.055],[0.350,-0.032],[0.351,0.062],[0.351,0.208],[0.354,0.167],[0.357,-0.174],[0.349,-0.255],[0.370,-0.027],[0.377,-0.030],[0.380,0.200],[0.392,-0.078],[0.416,0.028],[0.418,-0.096],[0.422,-0.146],[0.427,0.109],[0.442,-0.068],[0.450,0.087],[0.465,0.059],[0.470,-0.037],[0.475,-0.101],[0.477,0.177],[0.480,-0.091],[0.480,0.235],[0.500,0.087],[0.511,0.163],[0.514,0.084],[0.523,0.069],[0.531,-0.083],[0.532,-0.171],[0.535,-0.133],[0.553,0.059],[0.574,0.059],[0.590,-0.152],[0.608,0.008],[0.618,0.033],[0.620,-0.143],[0.641,0.033],[0.679,-0.133],[0.699,0.076],[0.700,-0.151],[0.700,-0.005],[0.732,0.086],[0.732,0.057],[0.734,-0.005],[0.743,-0.224],[0.740,0.288],[0.757,-0.005]];
const N6_bins=[[0.089,0.084,0.070],[0.179,0.023,0.059],[0.227,-0.044,0.050],[0.338,0.005,0.033],[0.402,-0.025,0.042],[0.483,0.017,0.042],[0.553,-0.055,0.072],[0.633,-0.061,0.070],[0.727,0.023,0.070]];
const N6_few=[];
const N6_lcdm=[[0.045,-0.003],[0.4,0.0],[0.759,-0.004]];
const N6_pade=[[0.045,0.002],[0.759,0.002]];

const LEGEND_LABELS=['Empirical','Flat ΛCDM','Flat Padé'];

// ---------------- LAYOUT ----------------
const PANELS=[
 {name:'S1',col:0,row:0,x:[0.064,0.828],xi:0.1,y:[17.96,24.8],curve:S1_curve,top:S1_top,res:S1_res,bins:S1_bins,few:S1_few,lcdm:S1_lcdm,pade:S1_pade},
 {name:'S2',col:1,row:0,x:[0.119,1.065],xi:0.2,y:[19.48,25.25],curve:S2_curve,top:S2_top,res:S2_res,bins:S2_bins,few:S2_few,lcdm:S2_lcdm,pade:S2_pade},
 {name:'S4',col:2,row:0,x:[0.0805,0.7457],xi:0.1,y:[18.55,24.43],curve:S4_curve,top:S4_top,res:S4_res,bins:S4_bins,few:S4_few,lcdm:S4_lcdm,pade:S4_pade},
 {name:'S5',col:0,row:1,x:[0.036,1.142],xi:0.2,y:[17.44,25.66],curve:S5_curve,top:S5_top,res:S5_res,bins:S5_bins,few:S5_few,lcdm:S5_lcdm,pade:S5_pade},
 {name:'S367',col:1,row:1,x:[0.001,0.82],xi:0.2,y:[14.38,24.82],curve:S367_curve,top:S367_top,res:S367_res,bins:S367_bins,few:S367_few,lcdm:S367_lcdm,pade:S367_pade},
 {name:'N147',col:2,row:1,x:[0.012,0.591],xi:0.1,y:[15.35,23.71],curve:N147_curve,top:N147_top,res:N147_res,bins:N147_bins,few:N147_few,lcdm:N147_lcdm,pade:N147_pade},
 {name:'N235',col:0,row:2,x:[0.0605,1.142],xi:0.2,y:[18.19,25.65],curve:N235_curve,top:N235_top,res:N235_res,bins:N235_bins,few:N235_few,lcdm:N235_lcdm,pade:N235_pade},
 {name:'N6',col:1,row:2,x:[0.032,0.7725],xi:0.1,y:[16.91,24.6],curve:N6_curve,top:N6_top,res:N6_res,bins:N6_bins,few:N6_few,lcdm:N6_lcdm,pade:N6_pade}
];
const COLS=[64.5,530.5,996.5], W=398;
const ROWS=[{t:2.5,h1:191,h2:192},{t:428.5,h1:191,h2:192},{t:855.5,h1:192,h2:192}];
const GREEN='#32cd32', NAVY='#00008b', DASHDOT=[16,4,2.5,4];
const SERIF='DejaVu Serif', SANS='DejaVu Sans';

const fmtRes=v=>(v<-1e-9?'\u2212':'')+Math.abs(v).toFixed(1);
const fmtX=v=>v.toFixed(1);
const fmtM=v=>String(Math.round(v));

function mkAxis(kind,gridIndex,position,ext,interval,minorSplit,labels,fmt,name,nameGap){
  const a={type:'value',gridIndex,position,min:ext[0],max:ext[1],minInterval:interval,maxInterval:interval,
    axisLine:{show:false,onZero:false},splitLine:{show:false},minorSplitLine:{show:false},
    axisTick:{show:true,inside:true,length:5,lineStyle:{color:'#000',width:1}},
    minorTick:{show:true,splitNumber:minorSplit,length:2.5,lineStyle:{color:'#000',width:0.8}},
    axisLabel:{show:labels,showMinLabel:false,showMaxLabel:false,margin:kind==='x'?5:4,color:'#000',fontFamily:SERIF,fontSize:13,formatter:fmt},
    silent:true,animation:false};
  if(name){a.name=name.text;a.nameLocation='middle';a.nameGap=nameGap;a.nameTextStyle=name.style;}
  return a;
}

const grid=[],xAxis=[],yAxis=[],series=[],graphic=[];
PANELS.forEach(p=>{
  const L=COLS[p.col],R=ROWS[p.row];
  const gT=grid.length;
  grid.push({left:L,top:R.t,width:W,height:R.h1,show:true,borderColor:'#000',borderWidth:1,backgroundColor:'rgba(0,0,0,0)',containLabel:false,outerBoundsMode:'none'});
  const gR=grid.length;
  grid.push({left:L,top:R.t+R.h1,width:W,height:R.h2,show:true,borderColor:'#000',borderWidth:1,backgroundColor:'rgba(0,0,0,0)',containLabel:false,outerBoundsMode:'none'});
  const xms=p.xi===0.1?5:4;
  const xT=xAxis.length;
  xAxis.push(mkAxis('x',gT,'bottom',p.x,p.xi,xms,false,fmtX));
  xAxis.push(mkAxis('x',gT,'top',p.x,p.xi,xms,false,fmtX));
  const xR=xAxis.length;
  xAxis.push(mkAxis('x',gR,'bottom',p.x,p.xi,xms,true,fmtX,{text:'z',style:{fontFamily:SERIF,fontStyle:'italic',fontSize:14,color:'#000'}},24));
  xAxis.push(mkAxis('x',gR,'top',p.x,p.xi,xms,false,fmtX));
  const yT=yAxis.length;
  yAxis.push(mkAxis('y',gT,'left',p.y,4,4,true,fmtM,{text:'m',style:{fontFamily:SERIF,fontStyle:'italic',fontSize:14,color:'#000'}},25));
  yAxis.push(mkAxis('y',gT,'right',p.y,4,4,false,fmtM));
  const yR=yAxis.length;
  yAxis.push(mkAxis('y',gR,'left',[-0.29,0.29],0.1,5,true,fmtRes,{text:'Residuals',style:{fontFamily:SANS,fontSize:13,color:'#000'}},45));
  yAxis.push(mkAxis('y',gR,'right',[-0.29,0.29],0.1,5,false,fmtRes));

  const base={silent:true,animation:false,emphasis:{disabled:true}};
  const scat=(data,xi,yi)=>Object.assign({type:'scatter',data,xAxisIndex:xi,yAxisIndex:yi,symbol:'circle',symbolSize:6.2,
     itemStyle:{color:'#c0c0c0',borderColor:'#7a7a7a',borderWidth:0.8,opacity:1},z:2,clip:true},base);
  const line=(data,xi,yi,color,width,dash,z)=>Object.assign({type:'line',data,xAxisIndex:xi,yAxisIndex:yi,showSymbol:false,symbol:'none',
     smooth:0.35,clip:true,lineStyle:{color,width,type:dash||'solid',cap:'butt',opacity:1},z},base);
  // top panel
  series.push(scat(p.top,xT,yT));
  series.push(line(p.curve,xT,yT,'#000',3,null,3));
  series.push(line(p.curve,xT,yT,GREEN,2.2,DASHDOT,4));
  series.push(line(p.curve,xT,yT,'#ff0000',1,null,5));
  // residual panel
  const z0=p.curve[0][0], z1=p.curve[p.curve.length-1][0];
  series.push(scat(p.res,xR,yR));
  series.push(line([[z0,0],[z1,0]],xR,yR,'#000',3,null,3));
  series.push(line(p.lcdm,xR,yR,GREEN,2.2,DASHDOT,4));
  series.push(line(p.pade,xR,yR,'#ff0000',1,null,5));
  series.push(line([[z0,0],[z1,0]],xR,yR,'#8b0000',1.3,[4,4],5));
  const errs=p.bins.concat(p.few);
  series.push(Object.assign({type:'custom',data:errs,xAxisIndex:xR,yAxisIndex:yR,clip:true,z:6,encode:{x:0,y:1},
    renderItem:(params,api)=>{
      const x=api.value(0),y=api.value(1),e=api.value(2);
      const a=api.coord([x,y-e]),b=api.coord([x,y+e]);
      return {type:'line',shape:{x1:a[0],y1:a[1],x2:b[0],y2:b[1]},style:{stroke:'rgba(0,0,139,0.8)',lineWidth:1.6}};
    }},base));
  series.push(Object.assign({type:'scatter',data:p.bins,xAxisIndex:xR,yAxisIndex:yR,symbol:'rect',symbolSize:8.5,clip:true,
    itemStyle:{color:NAVY,borderColor:NAVY,borderWidth:0.5,opacity:1},z:7},base));
  if(p.few.length){
    series.push(Object.assign({type:'scatter',data:p.few,xAxisIndex:xR,yAxisIndex:yR,symbol:'rect',symbolSize:8,clip:true,
      itemStyle:{color:'#c4c4c4',borderColor:'#1a1a8a',borderWidth:1.6,opacity:1},z:7},base));
  }
  // legend box (drawn with graphic elements)
  const bx=L+273, by=R.t+99.5, rows=[by+11.5,by+31.9,by+52.3,by+72.7], ix0=bx+4, ix1=bx+29, tx=bx+35;
  graphic.push({type:'rect',shape:{x:bx,y:by,width:117.5,height:85,r:4},style:{fill:'rgba(255,255,255,0.85)',stroke:'#cfcfcf',lineWidth:1},z:100,silent:true});
  graphic.push({type:'circle',shape:{cx:(ix0+ix1)/2,cy:rows[0],r:3.1},style:{fill:'#c0c0c0',stroke:'#7a7a7a',lineWidth:0.8},z:101,silent:true});
  graphic.push({type:'line',shape:{x1:ix0,y1:rows[1],x2:ix1,y2:rows[1]},style:{stroke:'#000',lineWidth:3.2},z:101,silent:true});
  graphic.push({type:'line',shape:{x1:ix0,y1:rows[2],x2:ix1,y2:rows[2]},style:{stroke:GREEN,lineWidth:2.4,lineDash:DASHDOT},z:101,silent:true});
  graphic.push({type:'line',shape:{x1:ix0,y1:rows[3],x2:ix1,y2:rows[3]},style:{stroke:'#ff0000',lineWidth:1},z:101,silent:true});
  [p.name].concat(LEGEND_LABELS).forEach((t,i)=>{
    graphic.push({type:'text',x:tx,y:rows[i],style:{text:t,fill:'#000',font:'13px DejaVu Sans',align:'left',verticalAlign:'middle',textAlign:'left',textVerticalAlign:'middle'},z:101,silent:true});
  });
});

const chart=echarts.init(document.getElementById('c'),null,{renderer:'canvas',width:1419,height:1287});
chart.setOption({backgroundColor:'#fff',animation:false,textStyle:{fontFamily:SANS},grid,xAxis,yAxis,series,graphic});
</script>
</body></html>
